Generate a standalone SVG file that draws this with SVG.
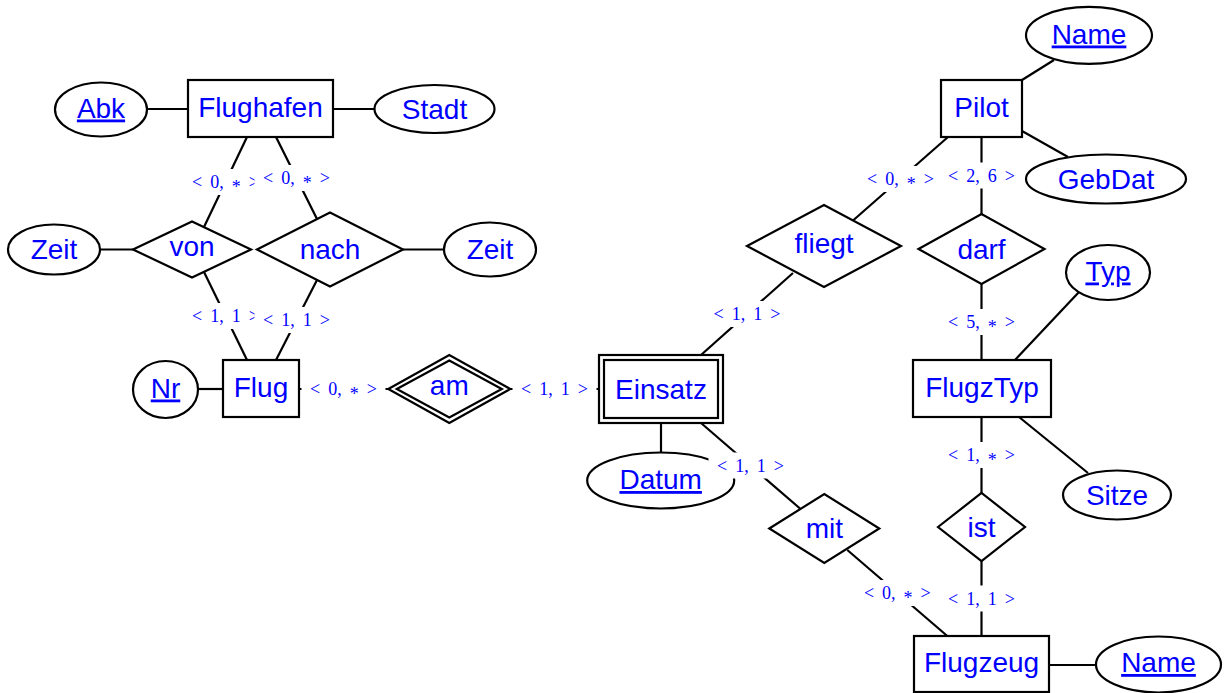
<svg xmlns="http://www.w3.org/2000/svg" width="1227" height="693" viewBox="0 0 1227 693">
<style>
.n{fill:#fff;stroke:#000;stroke-width:2.2}
.c line{stroke:#000;stroke-width:2.2}
.t{font-family:"Liberation Sans",Arial,sans-serif;font-size:28px;fill:#00f;text-anchor:middle}
.u{text-decoration:underline}
.lb{fill:#fff}
.l{font-family:"Liberation Serif","Times New Roman",serif;font-size:18px;fill:#00f;text-anchor:middle;word-spacing:3.5px}
</style>
<rect width="1227" height="693" fill="#fff"/>
<g id="connectors" class="c">
<line x1="147" y1="109" x2="188" y2="109"/>
<line x1="333" y1="109" x2="375" y2="109"/>
<line x1="100" y1="249.5" x2="133" y2="249.5"/>
<line x1="403" y1="249.5" x2="444" y2="249.5"/>
<line x1="247" y1="137" x2="204" y2="227"/>
<line x1="276" y1="137" x2="317" y2="219"/>
<line x1="204" y1="272" x2="247" y2="360"/>
<line x1="317" y1="280" x2="276" y2="360"/>
<line x1="198" y1="389" x2="223" y2="389"/>
<line x1="299" y1="389" x2="388" y2="389"/>
<line x1="510" y1="389" x2="599" y2="389"/>
<line x1="661" y1="423" x2="661" y2="453"/>
<line x1="701" y1="423" x2="800" y2="508.5"/>
<line x1="793" y1="273" x2="701" y2="355"/>
<line x1="948" y1="137" x2="853" y2="220.5"/>
<line x1="981.5" y1="137" x2="981.5" y2="214"/>
<line x1="1022" y1="80" x2="1054" y2="60"/>
<line x1="1022" y1="131" x2="1068" y2="157"/>
<line x1="981.5" y1="284" x2="981.5" y2="360"/>
<line x1="1015" y1="360" x2="1079" y2="292"/>
<line x1="1019" y1="417" x2="1088" y2="473"/>
<line x1="981.5" y1="417" x2="981.5" y2="493"/>
<line x1="981.5" y1="561" x2="981.5" y2="636"/>
<line x1="847.3" y1="550" x2="947.3" y2="636"/>
<line x1="1049" y1="665" x2="1096" y2="665"/>
</g>
<g id="Flughafen"><rect class="n" x="188" y="80" width="145" height="57"/><text class="t" x="260.5" y="116.5">Flughafen</text></g>
<g id="Abk"><ellipse class="n" cx="101" cy="109.5" rx="46" ry="27"/><text class="t u" x="101" y="117.5">Abk</text></g>
<g id="Stadt"><ellipse class="n" cx="434.5" cy="109" rx="60" ry="24"/><text class="t" x="434.5" y="119">Stadt</text></g>
<g id="von"><polygon class="n" points="133,249.5 192,221.5 251,249.5 192,277.5"/><text class="t" x="192" y="255.5">von</text></g>
<g id="nach"><polygon class="n" points="257,249.5 330,212.5 403,249.5 330,286.5"/><text class="t" x="330" y="259">nach</text></g>
<g id="Zeit1"><ellipse class="n" cx="54" cy="249.5" rx="46" ry="25"/><text class="t" x="54" y="259">Zeit</text></g>
<g id="Zeit2"><ellipse class="n" cx="490" cy="249.5" rx="46" ry="27"/><text class="t" x="490" y="259">Zeit</text></g>
<g id="Flug"><rect class="n" x="223" y="360" width="76" height="57"/><text class="t" x="261" y="396.5">Flug</text></g>
<g id="Nr"><ellipse class="n" cx="165.5" cy="389.5" rx="32.5" ry="28.5"/><text class="t u" x="165.5" y="397.5">Nr</text></g>
<g id="am"><polygon class="n" points="388.3,389 449.3,355 510.3,389 449.3,423"/><polygon class="n" points="396.8,389 449.3,360.6 501.8,389 449.3,417.4"/><text class="t" x="449.3" y="395">am</text></g>
<g id="Einsatz"><rect class="n" x="599" y="355" width="124" height="68"/><rect class="n" x="604" y="360" width="114" height="58"/><text class="t" x="661" y="398.5">Einsatz</text></g>
<g id="Datum"><ellipse class="n" cx="660.7" cy="480.5" rx="73.5" ry="28"/><text class="t u" x="660.7" y="489">Datum</text></g>
<g id="mit"><polygon class="n" points="769.3,528.5 824.3,494 879.3,528.5 824.3,563"/><text class="t" x="824.3" y="537.5">mit</text></g>
<g id="fliegt"><polygon class="n" points="747,246 824,205 901,246 824,287"/><text class="t" x="824" y="253">fliegt</text></g>
<g id="Pilot"><rect class="n" x="941" y="80" width="81" height="57"/><text class="t" x="981.5" y="117">Pilot</text></g>
<g id="NamePilot"><ellipse class="n" cx="1089" cy="35.3" rx="63" ry="28.5"/><text class="t u" x="1089" y="43.5">Name</text></g>
<g id="GebDat"><ellipse class="n" cx="1106" cy="179" rx="80" ry="24.5"/><text class="t" x="1106" y="189">GebDat</text></g>
<g id="darf"><polygon class="n" points="918.5,249 981.5,214 1044.5,249 981.5,284"/><text class="t" x="981.5" y="258.5">darf</text></g>
<g id="FlugzTyp"><rect class="n" x="913" y="360" width="138" height="57"/><text class="t" x="982" y="396.5">FlugzTyp</text></g>
<g id="Typ"><ellipse class="n" cx="1108" cy="272.5" rx="42" ry="27.5"/><text class="t u" x="1108" y="280.5">Typ</text></g>
<g id="Sitze"><ellipse class="n" cx="1117" cy="495" rx="54" ry="24.5"/><text class="t" x="1117" y="505">Sitze</text></g>
<g id="ist"><polygon class="n" points="938,527 981.5,493 1025,527 981.5,561"/><text class="t" x="981.5" y="536.5">ist</text></g>
<g id="Flugzeug"><rect class="n" x="914" y="636" width="135" height="56"/><text class="t" x="981.5" y="671.5">Flugzeug</text></g>
<g id="NameFlugzeug"><ellipse class="n" cx="1158.5" cy="664.5" rx="62.5" ry="28"/><text class="t u" x="1158.5" y="672">Name</text></g>
<g id="cardinalities">
<rect class="lb" x="183.5" y="169" width="84" height="26"/><text class="l" x="225.5" y="188">&lt; 0, <tspan dy="5">*</tspan><tspan dy="-5"> &gt;</tspan></text>
<rect class="lb" x="254.5" y="165" width="84" height="26"/><text class="l" x="296.5" y="184">&lt; 0, <tspan dy="5">*</tspan><tspan dy="-5"> &gt;</tspan></text>
<rect class="lb" x="183.5" y="303" width="84" height="26"/><text class="l" x="225.5" y="322">&lt; 1, 1 &gt;</text>
<rect class="lb" x="254.5" y="307" width="84" height="26"/><text class="l" x="296.5" y="326">&lt; 1, 1 &gt;</text>
<rect class="lb" x="301.5" y="376" width="84" height="26"/><text class="l" x="343.5" y="395">&lt; 0, <tspan dy="5">*</tspan><tspan dy="-5"> &gt;</tspan></text>
<rect class="lb" x="512.5" y="376" width="84" height="26"/><text class="l" x="554.5" y="395">&lt; 1, 1 &gt;</text>
<rect class="lb" x="858.5" y="166" width="84" height="26"/><text class="l" x="900.5" y="185">&lt; 0, <tspan dy="5">*</tspan><tspan dy="-5"> &gt;</tspan></text>
<rect class="lb" x="939.5" y="162.5" width="84" height="26"/><text class="l" x="981.5" y="181.5">&lt; 2, 6 &gt;</text>
<rect class="lb" x="705" y="301" width="84" height="26"/><text class="l" x="747" y="320">&lt; 1, 1 &gt;</text>
<rect class="lb" x="939.5" y="309" width="84" height="26"/><text class="l" x="981.5" y="328">&lt; 5, <tspan dy="5">*</tspan><tspan dy="-5"> &gt;</tspan></text>
<rect class="lb" x="939.5" y="442" width="84" height="26"/><text class="l" x="981.5" y="461">&lt; 1, <tspan dy="5">*</tspan><tspan dy="-5"> &gt;</tspan></text>
<rect class="lb" x="939.5" y="585.5" width="84" height="26"/><text class="l" x="981.5" y="604.5">&lt; 1, 1 &gt;</text>
<rect class="lb" x="708.5" y="452.5" width="84" height="26"/><text class="l" x="750.5" y="471.5">&lt; 1, 1 &gt;</text>
<rect class="lb" x="855.3" y="580" width="84" height="26"/><text class="l" x="897.3" y="599">&lt; 0, <tspan dy="5">*</tspan><tspan dy="-5"> &gt;</tspan></text>
</g>
</svg>
